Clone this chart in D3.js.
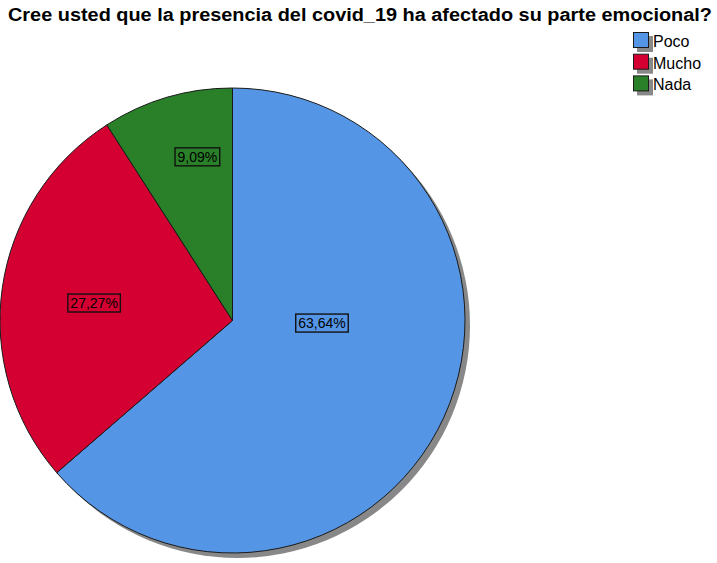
<!DOCTYPE html>
<html>
<head>
<meta charset="utf-8">
<script src="https://cdn.jsdelivr.net/npm/d3@7/dist/d3.min.js"></script>
<style>
  html, body { margin: 0; padding: 0; background: #fff; }
  svg { display: block; }
</style>
</head>
<body>
<svg id="chart" width="717" height="563"></svg>
<script>
// Survey answers and their share of responses (%)
const categories = ["Poco", "Mucho", "Nada"];
const percentages = [63.64, 27.27, 9.09];
const colors = ["#5595e5", "#d50032", "#2a8028"];
const titleText = "Cree usted que la presencia del covid_19 ha afectado su parte emocional?";

// Where each value label sits: fraction along the slice's angular span, fraction of radius
const labelPlacement = [
  { along: 0.40, radial: 0.385 },
  { along: 0.49, radial: 0.60 },
  { along: 0.63, radial: 0.72 }
];

const svg = d3.select("#chart");
const cx = 232.5, cy = 320.5, radius = 232.5;
const shadowOffset = 5;
const font = "Liberation Sans, Arial, sans-serif";

const data = categories.map((c, i) => ({ name: c, value: percentages[i], color: colors[i] }));

const pie = d3.pie().value(d => d.value).sort(null);
const arcs = pie(data);
const arc = d3.arc().innerRadius(0).outerRadius(radius);

// Title
svg.append("text")
  .attr("x", 8)
  .attr("y", 21)
  .attr("font-family", font)
  .attr("font-weight", "bold")
  .attr("font-size", 18)
  .attr("textLength", 704)
  .attr("lengthAdjust", "spacingAndGlyphs")
  .attr("fill", "#000")
  .text(titleText);

const g = svg.append("g").attr("transform", `translate(${cx},${cy})`);

// Drop shadow of the pie
g.append("circle")
  .attr("cx", shadowOffset)
  .attr("cy", shadowOffset)
  .attr("r", radius)
  .attr("fill", "#888");

// Slices
g.selectAll("path.slice")
  .data(arcs)
  .join("path")
  .attr("class", "slice")
  .attr("d", arc)
  .attr("fill", d => d.data.color)
  .attr("stroke", "#1a1a1a")
  .attr("stroke-width", 1);

// Value labels with boxed outline
const fmt = v => v.toFixed(2).replace(".", ",") + "%";
const labels = g.selectAll("g.lbl")
  .data(arcs)
  .join("g")
  .attr("class", "lbl")
  .attr("transform", (d, i) => {
    const p = labelPlacement[i];
    const a = d.startAngle + (d.endAngle - d.startAngle) * p.along;
    const r = radius * p.radial;
    return `translate(${r * Math.sin(a)},${-r * Math.cos(a)})`;
  });

labels.each(function(d) {
  const sel = d3.select(this);
  const t = sel.append("text")
    .attr("text-anchor", "middle")
    .attr("dy", "0.36em")
    .attr("font-family", font)
    .attr("font-size", 14)
    .attr("fill", "#000")
    .text(fmt(d.data.value));
  const bb = t.node().getBBox();
  sel.insert("rect", "text")
    .attr("x", bb.x - 2.5)
    .attr("y", -9)
    .attr("width", bb.width + 5)
    .attr("height", 18)
    .attr("fill", "none")
    .attr("stroke", "#111")
    .attr("stroke-width", 1.4);
});

// Legend
const legend = svg.append("g").attr("transform", "translate(633,32)");
const item = legend.selectAll("g.item")
  .data(data)
  .join("g")
  .attr("class", "item")
  .attr("transform", (d, i) => `translate(0,${i * 21.7})`);

item.append("rect")
  .attr("x", 4).attr("y", 4)
  .attr("width", 16).attr("height", 16)
  .attr("fill", "#888");
item.append("rect")
  .attr("x", 0.5).attr("y", 0.5)
  .attr("width", 15).attr("height", 15)
  .attr("fill", d => d.color)
  .attr("stroke", "#1a1a1a")
  .attr("stroke-width", 1);
item.append("text")
  .attr("x", 20)
  .attr("y", 15)
  .attr("font-family", font)
  .attr("font-size", 16)
  .attr("fill", "#000")
  .text(d => d.name);
</script>
</body>
</html>
